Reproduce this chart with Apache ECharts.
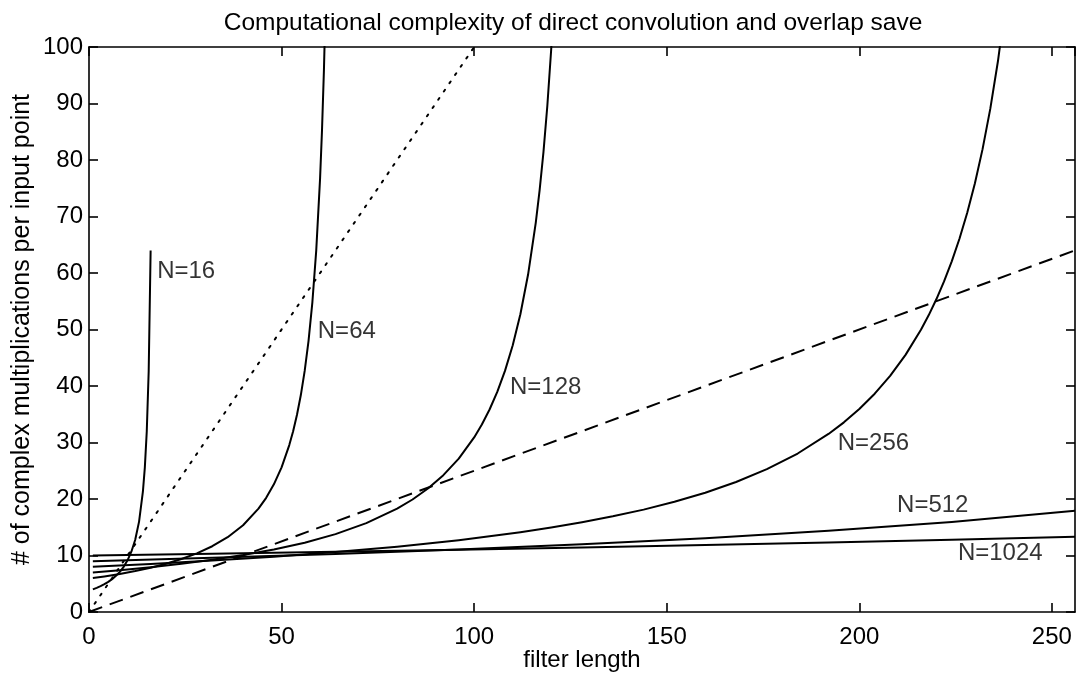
<!DOCTYPE html>
<html>
<head>
<meta charset="utf-8">
<script src="https://cdn.jsdelivr.net/npm/echarts@6/dist/echarts.min.js"></script>
<style>
html,body{margin:0;padding:0;background:#fff;}
#chart{width:1078px;height:677px;}
</style>
</head>
<body>
<div id="chart"></div>
<script>
// Filter length L and complex multiplications per input point
const n16L = [1,2,3,4,5,6,7,8,9,10,11,12,13,14,14.5,15,15.5,16];
const n16V = [4.00,4.27,4.57,4.92,5.33,5.82,6.40,7.11,8.00,9.14,10.67,12.80,16.00,21.33,25.60,32.00,42.67,64.00];

const n64L = [1,4,8,12,16,20,24,28,32,36,40,44,46,48,50,52,53,54,55,56,57,58,59,60,60.5,61,61.5,62];
const n64V = [6.00,6.30,6.74,7.25,7.84,8.53,9.37,10.38,11.64,13.24,15.36,18.29,20.21,22.59,25.60,29.54,32.00,34.91,38.40,42.67,48.00,54.86,64.00,76.80,85.33,96.00,109.7,128.0];

const n128L = [1,8,16,24,32,40,48,56,64,72,80,84,88,92,96,100,102,104,106,108,110,112,114,116,117,118,119,120,121];
const n128V = [7.00,7.40,7.93,8.53,9.24,10.07,11.06,12.27,13.78,15.72,18.29,19.91,21.85,24.22,27.15,30.90,33.19,35.84,38.96,42.67,47.16,52.71,59.73,68.92,74.67,81.45,89.60,99.56,112.0];

const n256L = [1,16,32,48,64,80,88,96,104,112,120,128,136,144,152,160,168,176,184,192,196,200,204,208,212,216,218,220,222,224,226,228,230,232,234,236,238];
const n256V = [8.00,8.50,9.10,9.80,10.61,11.57,12.12,12.72,13.39,14.12,14.95,15.88,16.93,18.12,19.50,21.11,23.01,25.28,28.05,31.51,33.57,35.93,38.64,41.80,45.51,49.95,52.51,55.35,58.51,62.06,66.06,70.62,75.85,81.92,89.04,97.52,107.8];

const n512L = [1,32,64,96,128,160,192,224,256];
const n512V = [9.00,9.58,10.26,11.05,11.97,13.05,14.36,15.94,17.93];

const n1024L = [1,32,64,96,128,160,192,224,256];
const n1024V = [10.00,10.31,10.66,11.02,11.42,11.84,12.29,12.78,13.32];

// Direct convolution (dotted) and dashed reference line
const directL = [0,100];
const directV = [0,100];
const dashedL = [0,256];
const dashedV = [0,64];

// Curve labels
const labelText = ['N=16','N=64','N=128','N=256','N=512','N=1024'];
const labelL = [17.7,59.4,109.3,194.4,209.8,225.6];
const labelV = [60.2,49.6,39.8,29.9,18.9,10.4];

// Axis ticks
const xTickMin = 0, xTickMax = 256, xTickStep = 50;
const yTickMin = 0, yTickMax = 100, yTickStep = 10;

const pairs = (xs, ys) => xs.map((x, i) => [x, ys[i]]);

const FONT = 'Liberation Sans, Arial, Helvetica, sans-serif';
const solid = {color: '#000', width: 2, join: 'round'};

function curve(name, xs, ys, style) {
  return {
    name: name, type: 'line', data: pairs(xs, ys),
    showSymbol: false, symbol: 'none', smooth: false, clip: true,
    lineStyle: style, silent: true, animation: false, z: 3
  };
}

const chart = echarts.init(document.getElementById('chart'), null, {renderer: 'canvas'});
const axisCommon = {
  type: 'value',
  axisLine: {show: true, onZero: false, lineStyle: {color: '#000', width: 1.6}},
  axisTick: {show: true, inside: true, length: 9, lineStyle: {color: '#000', width: 1.6}},
  splitLine: {show: false}
};
chart.setOption({
  animation: false,
  backgroundColor: '#fff',
  title: {
    text: 'Computational complexity of direct convolution and overlap save',
    left: 568, top: 6, textAlign: 'center',
    textStyle: {fontFamily: FONT, fontSize: 24.5, fontWeight: 'normal', color: '#000'}
  },
  grid: {left: 89, right: 3, top: 47, bottom: 65, containLabel: false, outerBoundsMode: 'none'},
  xAxis: [
    Object.assign({}, axisCommon, {
      position: 'bottom', min: xTickMin, max: xTickMax, interval: xTickStep,
      name: 'filter length', nameLocation: 'middle', nameGap: 36, nameMoveOverlap: false,
      nameTextStyle: {fontFamily: FONT, fontSize: 24, color: '#000'},
      axisLabel: {show: true, showMaxLabel: false, margin: 13, fontFamily: FONT, fontSize: 24, color: '#000',
        formatter: v => (v % xTickStep === 0 ? String(v) : '')}
    }),
    Object.assign({}, axisCommon, {
      position: 'top', min: xTickMin, max: xTickMax, interval: xTickStep,
      axisLabel: {show: false}
    })
  ],
  yAxis: [
    Object.assign({}, axisCommon, {
      position: 'left', min: yTickMin, max: yTickMax, interval: yTickStep,
      name: '# of complex multiplications per input point', nameLocation: 'middle', nameGap: 54, nameMoveOverlap: false,
      nameTextStyle: {fontFamily: FONT, fontSize: 25, color: '#000'},
      axisLabel: {show: true, margin: 6, fontFamily: FONT, fontSize: 24, color: '#000'}
    }),
    Object.assign({}, axisCommon, {
      position: 'right', min: yTickMin, max: yTickMax, interval: yTickStep,
      axisLabel: {show: false}
    })
  ],
  series: [
    curve('N=16', n16L, n16V, solid),
    curve('N=64', n64L, n64V, solid),
    curve('N=128', n128L, n128V, solid),
    curve('N=256', n256L, n256V, solid),
    curve('N=512', n512L, n512V, solid),
    curve('N=1024', n1024L, n1024V, solid),
    curve('direct', directL, directV, {color: '#000', width: 2, type: [2, 8], cap: 'round'}),
    curve('dashed', dashedL, dashedV, {color: '#000', width: 2, type: [14, 8]}),
    {
      type: 'scatter', silent: true, animation: false, symbolSize: 0, z: 5,
      data: labelText.map((t, i) => [labelL[i], labelV[i], t]),
      label: {
        show: true, position: 'right', distance: 0,
        formatter: p => p.data[2],
        fontFamily: FONT, fontSize: 24, color: '#000'
      }
    }
  ]
});
</script>
</body>
</html>
